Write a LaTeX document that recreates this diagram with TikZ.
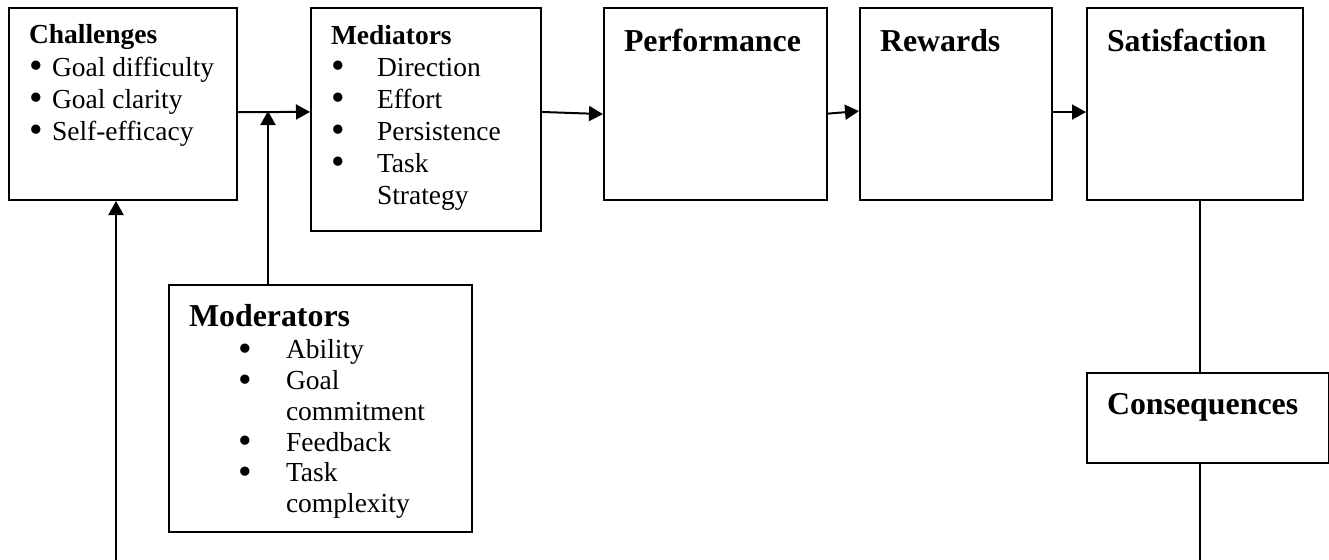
\documentclass[tikz,border=0pt]{standalone}
\usepackage{fontspec}
\setmainfont{Liberation Serif}
\usetikzlibrary{arrows.meta}
\newcommand{\bodyfont}	{\fontsize{11}{12.8}\selectfont}
\newcommand{\headfont}	{\fontsize{12.75}{14}\selectfont\bfseries}
\newcommand{\boxtext}[4]{\parbox[c][#2][t]{#1}{\raggedright\rule{0pt}{#3}#4}}
\newcommand{\dotmark}	{\raisebox{-1pt}[0pt][0pt]{\fontsize{15.5}{15.5}\selectfont\textbullet}}
\newcommand{\itm}[2]	{\makebox[#1][l]{\dotmark}#2}

\begin{document}
\begin{tikzpicture}[
		x               = 0.4pt,
		y               = -0.4pt,
		box/.style      = {draw,
			rectangle,
			anchor         = north west,
			inner xsep     = 8pt,
			inner ysep     = 0pt,
			line width     = 0.8pt,
			font           = \bodyfont},
		arr/.style      = {-{Triangle[length=5.6pt, width=6pt]},
			line width     = 0.8pt},
		link/.style     = {line width = 0.6pt}]
		
		\useasboundingbox (0,0) rectangle (1329,560);
		
		\node[box] (Chal) at (8,7)
		{\boxtext{75.2pt}{76.8pt}{14.4pt}{\textbf{Challenges}\\
			\itm{9.2pt}{Goal difficulty}\\
			\itm{9.2pt}{Goal clarity}\\
			\itm{9.2pt}{Self-efficacy}}};
		
		\node[box] (Med) at (310,7)
		{\boxtext{76pt}{89.2pt}{14.4pt}{\textbf{Mediators}\\
			\itm{18.4pt}{Direction}\\
			\itm{18.4pt}{Effort}\\
			\itm{18.4pt}{Persistence}\\
			\itm{18.4pt}{Task}\\
			\hspace*{18.4pt}Strategy}};
		
		\node[box] (Perf) at (603,7)
		{\boxtext{73.2pt}{76.8pt}{17.6pt}{{\headfont Performance}}};
		
		\node[box] (Rew) at (859,7)
		{\boxtext{60.8pt}{76.8pt}{17.6pt}{{\headfont Rewards}}};
		
		\node[box] (Sat) at (1086,7)
		{\boxtext{70.4pt}{76.8pt}{17.6pt}{{\headfont Satisfaction}}};
		
		\node[box] (Cons) at (1086,372)
		{\boxtext{80.8pt}{36pt}{16.6pt}{{\headfont Consequences}}};
		
		\node[box] (Mod) at (168,284)
		{\boxtext{105.2pt}{98.8pt}{16.4pt}{\fontsize{11}{12.3}\selectfont
			{\headfont Moderators}\\[0.8pt]
			\hspace*{19.6pt}\itm{19.2pt}{Ability}\\
			\hspace*{19.6pt}\itm{19.2pt}{Goal}\\
			\hspace*{38.8pt}commitment\\
			\hspace*{19.6pt}\itm{19.2pt}{Feedback}\\
			\hspace*{19.6pt}\itm{19.2pt}{Task}\\
			\hspace*{38.8pt}complexity}};
		
		\coordinate (jn)  at (268,111);
		\coordinate (fbL) at (116,560);
		\coordinate (fbR) at (1200,560);
		
		\path (Chal.east) -- (Chal.north east) coordinate[pos=-0.083] (c0);
		\path (Med.west)  -- (Med.north west)  coordinate[pos=0.067]  (m0);
		\path (Med.east)  -- (Med.north east)  coordinate[pos=0.067]  (m1);
		\path (Perf.west) -- (Perf.north west) coordinate[pos=-0.104] (p0);
		\path (Perf.east) -- (Perf.north east) coordinate[pos=-0.099] (p1);
		\path (Rew.west)  -- (Rew.north west)  coordinate[pos=-0.073] (r0);
		\path (Rew.east)  -- (Rew.north east)  coordinate[pos=-0.083] (r1);
		\path (Sat.west)  -- (Sat.north west)  coordinate[pos=-0.083] (s0);
		
		\draw[arr] (c0) -- (m0);
		\draw[arr] (Mod.north -| jn) -- (jn);
		\draw[arr] (m1) -- (p0);
		\draw[arr] (p1) -- (r0);
		\draw[arr] (r1) -- (s0);
		
		\draw[link] (Sat.south -| fbR) -- (Cons.north -| fbR);
		\draw[link] (Cons.south -| fbR) -- (fbR);
		\draw[arr]  (fbL) -- (Chal.south -| fbL);
		
	\end{tikzpicture}
\end{document}
